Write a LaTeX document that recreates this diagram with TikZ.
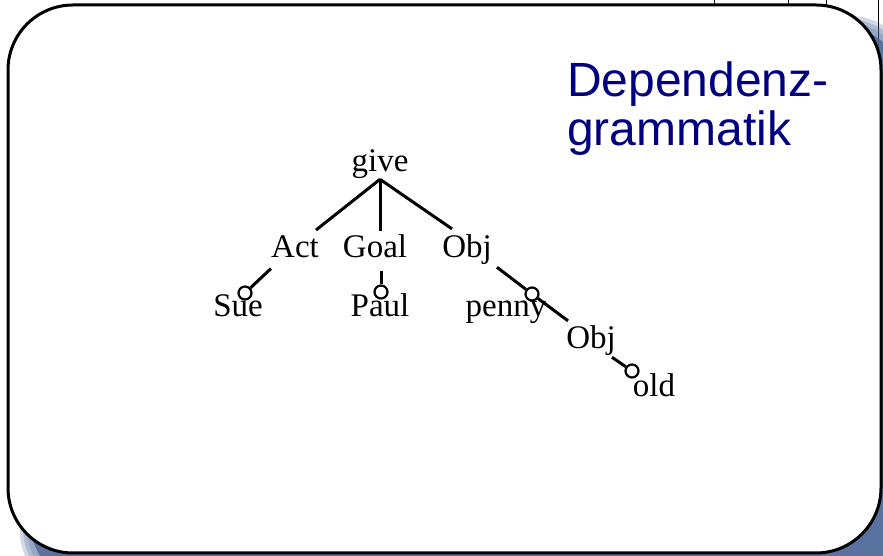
\documentclass[tikz,border=0pt]{standalone}
\usepackage{fontspec}
\setmainfont{Liberation Serif}
\newfontfamily\titlefont{Liberation Sans}
\usepackage{xcolor}
\definecolor{n1}{HTML}{000080}
\definecolor{s1}{HTML}{4A6597}

\begin{document}
\begin{tikzpicture}[x=1pt,y=1pt,
  word/.style={anchor=base,inner sep=0pt,font=\fontsize{33}{33}\selectfont},
  ring/.style={circle,draw,line width=2.2pt,minimum size=13pt,inner sep=0pt},
  link/.style={line width=3pt},
  title/.style={anchor=base west,inner sep=0pt,text=n1,font=\titlefont\fontsize{48}{50}\selectfont}]
  \useasboundingbox (0,0) rectangle (883,556);
  % page behind the slide
  \draw[line width=1pt] (714,556) -- (714,550);
  \draw[line width=1pt] (788,556) -- (788,550);
  \draw[line width=1pt] (826,556) -- (826,550);
  \draw[line width=1pt] (878,556) -- (878,480);
  % shadow and frame
  \foreach \e in {10,7,4}
    \fill[s1,opacity=0.25,rounded corners=65pt] (30-\e,-30-\e) rectangle (905+\e,530+\e);
  \fill[s1,opacity=0.8,rounded corners=65pt] (30,-30) rectangle (905,530);
  \draw[fill=white,line width=3pt,rounded corners=65pt] (8,3) rectangle (881,551);

  \node[title] (title) at (567,459) {Dependenz-};
  \node[title] (titleb) at (567,410) {grammatik};

  \node[word] (give) at (380,384) {give};
  \node[word] (act) at (295,298) {Act};
  \node[word] (goal) at (375,298) {Goal};
  \node[word] (obj) at (467,298) {Obj};
  \node[word] (sue) at (238,239) {Sue};
  \node[word] (paul) at (380,239) {Paul};
  \node[word] (penny) at (506,239) {penny};
  \node[word] (objb) at (591,207) {Obj};
  \node[word] (old) at (654,159) {old};

  \node[ring] (sueo) at (245,263) {};
  \node[ring] (paulo) at (381,264) {};
  \node[ring] (pennyo) at (532,262) {};
  \node[ring] (oldo) at (632,185) {};

  \draw[link] (give.south) -- ([shift={(-3,6)}]act.north east);
  \draw[link] (give.south) -- ([yshift=4pt]give.south |- goal.north);
  \draw[link] (give.south) -- ([shift={(10,6)}]obj.north west);
  \draw[link] ([yshift=-10pt]act.south west) -- (sueo);
  \draw[link] ([yshift=-12pt]paulo |- goal.south) -- (paulo);
  \draw[link] ([shift={(5,-2)}]obj.south east) -- (pennyo);
  \draw[link] (pennyo) -- ([shift={(2,5)}]objb.north west);
  \draw[link] ([shift={(-4,-1)}]objb.south east) -- (oldo);
\end{tikzpicture}
\end{document}
